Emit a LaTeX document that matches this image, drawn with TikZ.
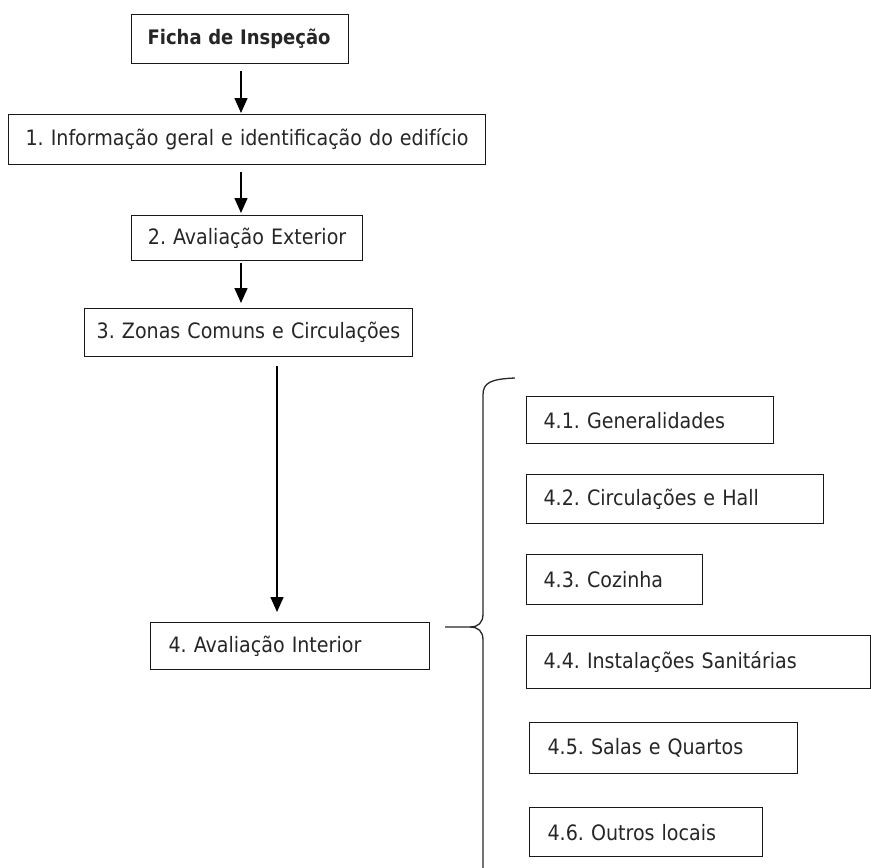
\documentclass[tikz,border=0pt]{standalone}
\usepackage{fontspec}
\setmainfont{DejaVu Sans Condensed}
\usetikzlibrary{arrows.meta}
\frenchspacing
\begin{document}
\begin{tikzpicture}[x=1pt,y=-1pt,
  box/.style={draw=black!90, line width=1.2pt, anchor=north west, inner ysep=0pt,
    font=\fontsize{21.2}{25}\selectfont\frenchspacing, text=black!85},
  cbox/.style={box, inner xsep=0pt, align=center},
  lbox/.style={box, align=left},
  arr/.style={-{Triangle[length=15pt,width=13pt]}, line width=1.5pt},
  brace/.style={line width=1.3pt, black!85}]
\useasboundingbox (0,0) rectangle (871,868);

\node[lbox, inner xsep=16pt, text width=185pt, minimum height=49pt,
      font=\fontsize{20}{24}\selectfont\bfseries] (f) at (131,14) {Ficha de Inspeção};
\node[cbox, text width=477pt, minimum height=50pt] (b1) at (8,114)
  {1. Informação geral e identificação do edifício};
\node[cbox, text width=231pt, minimum height=45pt] (b2) at (131,215)
  {2. Avaliação Exterior};
\node[cbox, text width=328pt, minimum height=48pt] (b3) at (84,308)
  {3. Zonas Comuns e Circulações};
\node[lbox, inner xsep=18pt, text width=243pt, minimum height=47pt] (b4) at (150,622)
  {4. Avaliação Interior};

\node[lbox, inner xsep=17pt, text width=213pt, minimum height=47pt] (s1) at (526,396)
  {4.1. Generalidades};
\node[lbox, inner xsep=17pt, text width=263pt, minimum height=49pt] (s2) at (526,474)
  {4.2. Circulações e Hall};
\node[lbox, inner xsep=17pt, text width=142pt, minimum height=50pt] (s3) at (526,554)
  {4.3. Cozinha};
\node[lbox, inner xsep=17pt, text width=310pt, minimum height=53pt] (s4) at (526,635)
  {4.4. Instalações Sanitárias};
\node[lbox, inner xsep=18pt, text width=232pt, minimum height=51pt] (s5) at (529,722)
  {4.5. Salas e Quartos};
\node[lbox, inner xsep=18pt, text width=197pt, minimum height=49pt] (s6) at (529,807)
  {4.6. Outros locais};

\coordinate (ax) at (241,0);
\coordinate (bx) at (277,0);
\draw[arr] ([yshift=-7pt]f.south -| ax) -- ([yshift=1pt]b1.north -| ax);
\draw[arr] ([yshift=-7pt]b1.south -| ax) -- ([yshift=2pt]b2.north -| ax);
\draw[arr] ([yshift=-2pt]b2.south -| ax) -- ([yshift=5pt]b3.north -| ax);
\draw[arr] ([yshift=-9pt]b3.south -| bx) -- ([yshift=10pt]b4.north -| bx);

\coordinate (btop) at (515,378);
\coordinate (bmid) at (445,627);
\coordinate (bcusp) at (470,627);
\coordinate (bbot) at (483,868);
\draw[brace] (btop) .. controls (490,379) and (483,383) .. (483,395) -- (483,614)
  .. controls (483,623) and (478,627) .. (bcusp) -- (bmid);
\draw[brace] (bcusp) .. controls (478,627) and (483,631) .. (483,640) -- (bbot);
\end{tikzpicture}
\end{document}
